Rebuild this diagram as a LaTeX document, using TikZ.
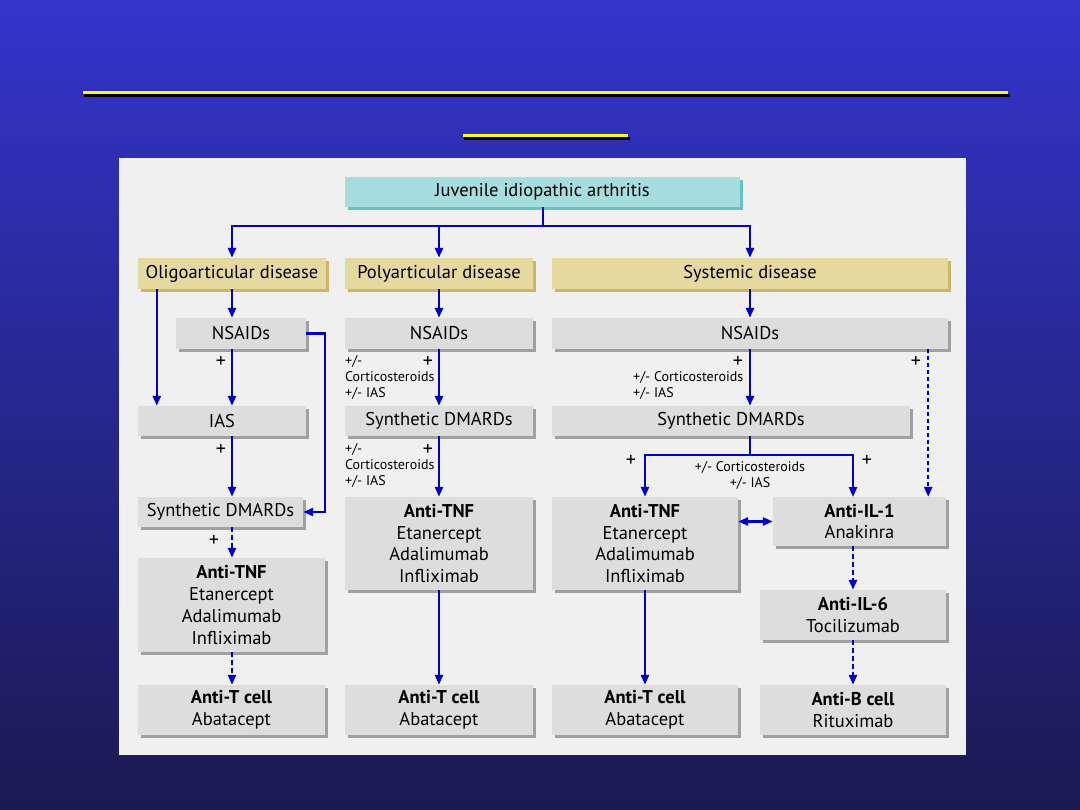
\documentclass[tikz,border=0pt]{standalone}
\usepackage{fontspec}
\setmainfont{PT Sans}
\usetikzlibrary{arrows.meta,shadows,calc}
\definecolor{bgtop}{RGB}{52,52,204}
\definecolor{bgbot}{RGB}{26,26,82}
\definecolor{panel}{RGB}{240,240,240}
\definecolor{gface}{RGB}{221,221,221}
\definecolor{gshad}{RGB}{160,160,160}
\definecolor{tface}{RGB}{230,217,160}
\definecolor{tshad}{RGB}{204,182,104}
\definecolor{cface}{RGB}{166,221,223}
\definecolor{cshad}{RGB}{102,194,196}
\definecolor{arrblue}{RGB}{0,0,204}
\definecolor{rule}{RGB}{255,255,0}
\newcommand\bx[7]{\node[#6, minimum width={(#4-#2)*1pt}, minimum height={(#5-#3)*1pt}] (#1) at ({(#2+#4)/2},{(#3+#5)/2}) {#7};}
\tikzset{
  x=1pt, y=-1pt,
  box/.style={inner sep=0pt, align=center, font=\fontsize{18.5}{21.7}\selectfont},
  gbox/.style={box, fill=gface, general shadow={fill=gshad, shadow xshift=3pt, shadow yshift=-3pt}},
  tbox/.style={box, fill=tface, general shadow={fill=tshad, shadow xshift=3pt, shadow yshift=-3pt}},
  cbox/.style={box, fill=cface, general shadow={fill=cshad, shadow xshift=3pt, shadow yshift=-3pt}},
  line/.style={draw=arrblue, line width=2.4pt},
  arr/.style={line, -{Triangle[width=8pt,length=10pt]}},
  darr/.style={arr, dash pattern=on 5pt off 3pt},
  plus/.style={inner sep=0pt, font=\fontsize{20}{20}\selectfont},
  small/.style={inner sep=0pt, align=left, font=\fontsize{14}{16.3}\selectfont},
  smallc/.style={small, align=center},
}
\begin{document}
\begin{tikzpicture}
\useasboundingbox (0,0) rectangle (1080,810);
\shade[top color=bgtop, bottom color=bgbot] (0,0) rectangle (1080,810);
% rules
\fill[black] (84,94) rectangle (1010,97);
\fill[rule] (83,91) rectangle (1008,94);
\fill[black] (464,137) rectangle (630,140);
\fill[rule] (463,134) rectangle (628,137);
% panel
\fill[panel] (119,158) rectangle (966,755);
% boxes
\bx{title}{345}{177}{740}{207}{cbox}{Juvenile idiopathic arthritis}
\bx{oligo}{138}{258}{326}{289}{tbox}{Oligoarticular disease}
\bx{poly}{345}{258}{533}{289}{tbox}{Polyarticular disease}
\bx{sys}{552}{258}{948}{289}{tbox}{Systemic disease}
\bx{nsO}{176}{318}{306}{349}{gbox}{NSAIDs}
\bx{nsP}{345}{318}{533}{349}{gbox}{NSAIDs}
\bx{nsS}{552}{318}{948}{349}{gbox}{NSAIDs}
\bx{ias}{138}{406}{306}{436}{gbox}{IAS}
\bx{sdP}{345}{406}{533}{436}{gbox}{Synthetic DMARDs}
\bx{sdS}{552}{406}{910}{436}{gbox}{Synthetic DMARDs}
\bx{sdO}{138}{497}{303}{527}{gbox}{Synthetic DMARDs}
\bx{tnfP}{345}{497}{533}{590}{gbox}{\textbf{Anti-TNF}\\Etanercept\\Adalimumab\\Infliximab}
\bx{tnfS}{552}{497}{738}{590}{gbox}{\textbf{Anti-TNF}\\Etanercept\\Adalimumab\\Infliximab}
\bx{il1}{773}{497}{946}{546}{gbox}{\textbf{Anti-IL-1}\\Anakinra}
\bx{tnfO}{138}{558}{325}{652}{gbox}{\textbf{Anti-TNF}\\Etanercept\\Adalimumab\\Infliximab}
\bx{il6}{760}{590}{946}{640}{gbox}{\textbf{Anti-IL-6}\\Tocilizumab}
\bx{tO}{138}{685}{325}{735}{gbox}{\textbf{Anti-T cell}\\Abatacept}
\bx{tP}{345}{685}{533}{735}{gbox}{\textbf{Anti-T cell}\\Abatacept}
\bx{tS}{552}{685}{738}{735}{gbox}{\textbf{Anti-T cell}\\Abatacept}
\bx{bB}{760}{685}{946}{735}{gbox}{\textbf{Anti-B cell}\\Rituximab}
% top split
\coordinate (hub) at (543,226);
\draw[line] (title.south -| hub) -- (hub);
\draw[arr] (hub) -| (oligo.north);
\draw[arr] (hub) -| (poly.north);
\draw[arr] (hub) -| (sys.north);
% oligo column
\draw[arr] (oligo.south) -- (oligo.south |- nsO.north);
\draw[arr] ($(oligo.south west)+(19,0)$) -- ($(ias.north west)+(19,0)$);
\draw[arr] (oligo.south |- nsO.south) -- (oligo.south |- ias.north);
\draw[arr] (nsO.east) -- ++(19,0) |- (sdO.east);
\draw[arr] (oligo.south |- ias.south) -- (oligo.south |- sdO.north);
\draw[darr] (oligo.south |- sdO.south) -- (oligo.south |- tnfO.north);
\draw[darr] (oligo.south |- tnfO.south) -- (oligo.south |- tO.north);
\node[plus] (pO1) at (221,362) {+};
\node[plus] (pO2) at (221,450) {+};
\node[plus] (pO3) at (214,541) {+};
% poly column
\draw[arr] (poly.south) -- (nsP.north);
\draw[arr] (nsP.south) -- (sdP.north);
\draw[arr] (sdP.south) -- (tnfP.north);
\draw[arr] (tnfP.south) -- (tP.north);
\node[plus] (pP1) at (428,362) {+};
\node[plus] (pP2) at (428,450) {+};
\node[small, anchor=north west] (lP1) at (345,355) {+/-\\Corticosteroids\\+/- IAS};
\node[small, anchor=north west] (lP2) at (345,443) {+/-\\Corticosteroids\\+/- IAS};
% systemic column
\draw[arr] (sys.south) -- (sys.south |- nsS.north);
\draw[arr] (sys.south |- nsS.south) -- (sys.south |- sdS.north);
\coordinate (sb) at (750,455);
\draw[line] (sys.south |- sdS.south) -- (sb);
\draw[arr] (sb) -| (tnfS.north);
\coordinate (il1top) at (853,497);
\draw[arr] (sb) -| (il1top);
\draw[darr, dash pattern=on 4pt off 3pt] ($(nsS.south east)+(-20,0)$) -- ($(il1.north east)+(-18,0)$);
\draw[line, {Triangle[width=8pt,length=10pt]}-{Triangle[width=8pt,length=10pt]}] (tnfS.east |- il1.west) -- (il1.west);
\draw[darr] (il6.north |- il1.south) -- (il6.north);
\draw[darr] (il6.south) -- (bB.north);
\draw[arr] (tnfS.south) -- (tS.north);
\node[plus] (pS1) at (738,362) {+};
\node[plus] (pS2) at (916,362) {+};
\node[plus] (pS3) at (631,461) {+};
\node[plus] (pS4) at (867,461) {+};
\node[small, anchor=north west] (lS1) at (633,371) {+/- Corticosteroids\\+/- IAS};
\node[smallc, anchor=north] (lS2) at (750,461) {+/- Corticosteroids\\+/- IAS};
\end{tikzpicture}
\end{document}
